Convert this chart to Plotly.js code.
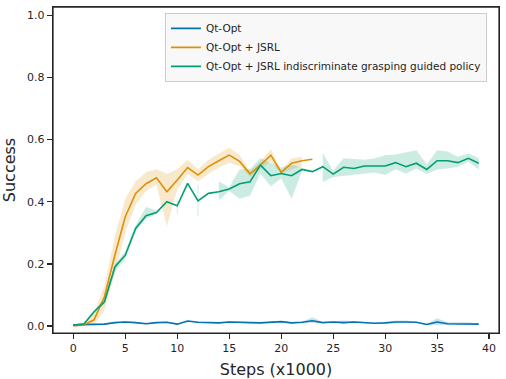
<!DOCTYPE html>
<html>
<head>
<meta charset="utf-8">
<script src="https://cdn.plot.ly/plotly-3.0.1.min.js"></script>
<style>
  html, body { margin: 0; padding: 0; background: #fff; }
  #chart { width: 506px; height: 379px; }
  #err { position: absolute; left: 80px; top: 120px; color: red; font: 11px sans-serif; width: 400px; }
</style>
</head>
<body>
<div id="chart"></div>
<div id="err"></div>
<script>
window.onerror = function (m) { document.getElementById('err').textContent += ' ERR: ' + m; };

// steps (x1000)
const steps = [];
for (let i = 0; i < 40; i++) steps.push(i);

const seriesNames = ['Qt-Opt', 'Qt-Opt + JSRL', 'Qt-Opt + JSRL indiscriminate grasping guided policy'];
const seriesColors = ['#0173b2', '#de8f05', '#029e73'];
const bandColors = ['rgba(1,115,178,0.2)', 'rgba(222,143,5,0.2)', 'rgba(2,158,115,0.2)'];

// Qt-Opt
const qtMean = [0.004, 0.004, 0.004, 0.006, 0.011, 0.013, 0.011, 0.0075, 0.011, 0.012,
                0.006, 0.016, 0.012, 0.011, 0.010, 0.013, 0.013, 0.011, 0.010, 0.013,
                0.014, 0.010, 0.012, 0.017, 0.011, 0.013, 0.011, 0.013, 0.010, 0.009,
                0.010, 0.013, 0.013, 0.012, 0.005, 0.013, 0.0075, 0.0075, 0.0075, 0.006];
const qtLow = [0.002, 0.002, 0.002, 0.004, 0.009, 0.011, 0.009, 0.0055, 0.009, 0.010,
               0.004, 0.014, 0.010, 0.009, 0.008, 0.011, 0.011, 0.009, 0.008, 0.011,
               0.012, 0.008, 0.010, 0.010, 0.009, 0.011, 0.007, 0.011, 0.008, 0.007,
               0.008, 0.008, 0.008, 0.010, 0.003, 0.005, 0.004, 0.004, 0.004, 0.004];
const qtHigh = [0.006, 0.006, 0.006, 0.008, 0.013, 0.015, 0.013, 0.0095, 0.013, 0.014,
                0.008, 0.018, 0.014, 0.013, 0.012, 0.015, 0.015, 0.013, 0.012, 0.015,
                0.016, 0.012, 0.014, 0.028, 0.013, 0.015, 0.018, 0.015, 0.012, 0.011,
                0.012, 0.018, 0.018, 0.014, 0.007, 0.025, 0.012, 0.012, 0.012, 0.008];

// Qt-Opt + JSRL
const jsrlMean = [0.0, 0.003, 0.02, 0.094, 0.228, 0.352, 0.427, 0.458, 0.477, 0.432,
                  0.47, 0.51, 0.486, 0.513, 0.532, 0.55, 0.53, 0.49, 0.518, 0.55,
                  0.495, 0.524, 0.532, 0.537];
const jsrlLow = [0.0, 0.0, 0.005, 0.05, 0.17, 0.30, 0.39, 0.435, 0.455, 0.32,
                 0.44, 0.49, 0.465, 0.49, 0.51, 0.525, 0.515, 0.48, 0.505, 0.53,
                 0.49, 0.505, 0.515, null];
const jsrlHigh = [0.002, 0.008, 0.04, 0.13, 0.29, 0.41, 0.465, 0.495, 0.505, 0.49,
                  0.505, 0.535, 0.505, 0.535, 0.555, 0.575, 0.55, 0.50, 0.53, 0.57,
                  0.50, 0.54, 0.545, null];

// Qt-Opt + JSRL indiscriminate grasping guided policy
const guidedMean = [0.003, 0.006, 0.046, 0.078, 0.19, 0.228, 0.314, 0.355, 0.365, 0.40,
                    0.387, 0.459, 0.403, 0.427, 0.432, 0.441, 0.458, 0.464, 0.518, 0.484,
                    0.491, 0.484, 0.504, 0.497, 0.513, 0.489, 0.511, 0.507, 0.515, 0.515,
                    0.515, 0.526, 0.513, 0.524, 0.504, 0.532, 0.532, 0.526, 0.54, 0.524];
const guidedLow = [0.0, 0.003, 0.04, 0.07, 0.175, 0.215, 0.305, 0.345, 0.36, null,
                   0.363, null, 0.355, null, 0.405, 0.435, 0.41, 0.42, 0.49, 0.45,
                   0.475, 0.41, 0.498, null, 0.464, 0.48, 0.483, 0.488, 0.49, 0.494,
                   0.486, 0.505, 0.49, 0.507, 0.489, 0.504, 0.507, 0.513, 0.529, 0.504];
const guidedHigh = [0.005, 0.01, 0.05, 0.09, 0.2, 0.24, 0.325, 0.383, 0.372, null,
                    0.405, null, 0.455, null, 0.465, 0.447, 0.505, 0.505, 0.54, 0.525,
                    0.51, 0.52, 0.51, null, 0.558, 0.5, 0.54, 0.537, 0.535, 0.54,
                    0.55, 0.552, 0.56, 0.566, 0.521, 0.566, 0.562, 0.545, 0.556, 0.54];

// one trace per contiguous run of the band: a filled polygon, or a thin
// vertical stroke where the band exists at a lone step only
function bandTraces(x, lo, hi, color) {
  const out = [];
  let run = [];
  const flush = () => {
    if (run.length === 1) {
      const i = run[0];
      out.push({
        type: 'scatter', mode: 'lines', x: [x[i], x[i]], y: [lo[i], hi[i]],
        line: { width: 1, color: color }, showlegend: false
      });
    } else if (run.length > 1) {
      const back = run.slice().reverse();
      out.push({
        type: 'scatter', mode: 'lines',
        x: run.map(i => x[i]).concat(back.map(i => x[i])),
        y: run.map(i => hi[i]).concat(back.map(i => lo[i])),
        fill: 'toself', fillcolor: color, line: { width: 0 },
        showlegend: false
      });
    }
    run = [];
  };
  for (let i = 0; i < lo.length; i++) {
    if (lo[i] === null || hi[i] === null) flush();
    else run.push(i);
  }
  flush();
  return out;
}

const means = [qtMean, jsrlMean, guidedMean];
const lows = [qtLow, jsrlLow, guidedLow];
const highs = [qtHigh, jsrlHigh, guidedHigh];

let data = [];
means.forEach((m, k) => {
  data = data.concat(bandTraces(steps.slice(0, m.length), lows[k], highs[k], bandColors[k]));
});
means.forEach((m, k) => {
  data.push({
    type: 'scatter', mode: 'lines', name: seriesNames[k],
    x: steps.slice(0, m.length), y: m,
    line: { color: seriesColors[k], width: 1.6 }
  });
});

const xRange = [-1.95, 40.95];
const yRange = [-0.0225, 1.027];

const axisCommon = {
  showline: true, mirror: true, linecolor: '#262626', linewidth: 1.25,
  ticks: 'outside', ticklen: 5, tickwidth: 1.25, tickcolor: '#262626',
  showgrid: false, zeroline: false,
  tickfont: { family: 'DejaVu Sans', size: 11, color: '#262626' }
};
// plain framing axes for the top and right edges of the box
const frameAxis = {
  showline: true, linecolor: '#262626', linewidth: 1.25,
  ticks: '', showticklabels: false, showgrid: false, zeroline: false
};

const layout = {
  width: 506, height: 379,
  margin: { l: 53, r: 7, t: 7, b: 46 },
  font: { family: 'DejaVu Sans', color: '#262626' },
  xaxis: Object.assign({}, axisCommon, {
    range: xRange, tickmode: 'linear', tick0: 0, dtick: 5,
    title: { text: 'Steps (x1000)', font: { size: 16, color: '#262626' } }
  }),
  yaxis: Object.assign({}, axisCommon, {
    range: yRange, tickmode: 'linear', tick0: 0, dtick: 0.2, tickformat: '.1f',
    title: { text: 'Success', font: { size: 16, color: '#262626' } }
  }),
  xaxis2: Object.assign({}, frameAxis, { overlaying: 'x', side: 'top', anchor: 'y', range: xRange }),
  yaxis2: Object.assign({}, frameAxis, { overlaying: 'y', side: 'right', anchor: 'x', range: yRange }),
  shapes: [{
    type: 'rect', xref: 'paper', yref: 'paper', x0: 0, x1: 1, y0: 0, y1: 1,
    line: { color: '#262626', width: 1.25 }, layer: 'above'
  }],
  legend: {
    x: 0.251, y: 0.982, xanchor: 'left', yanchor: 'top',
    bgcolor: 'rgba(247,247,247,0.9)', bordercolor: '#cccccc', borderwidth: 1,
    font: { family: 'DejaVu Sans', size: 10.5, color: '#262626' },
    itemwidth: 30, tracegroupgap: 0
  },
  showlegend: true
};

Plotly.newPlot('chart', data, layout, { displayModeBar: false, staticPlot: true })
  .catch(function (e) { document.getElementById('err').textContent += ' CATCH: ' + e.message; });
</script>
</body>
</html>
